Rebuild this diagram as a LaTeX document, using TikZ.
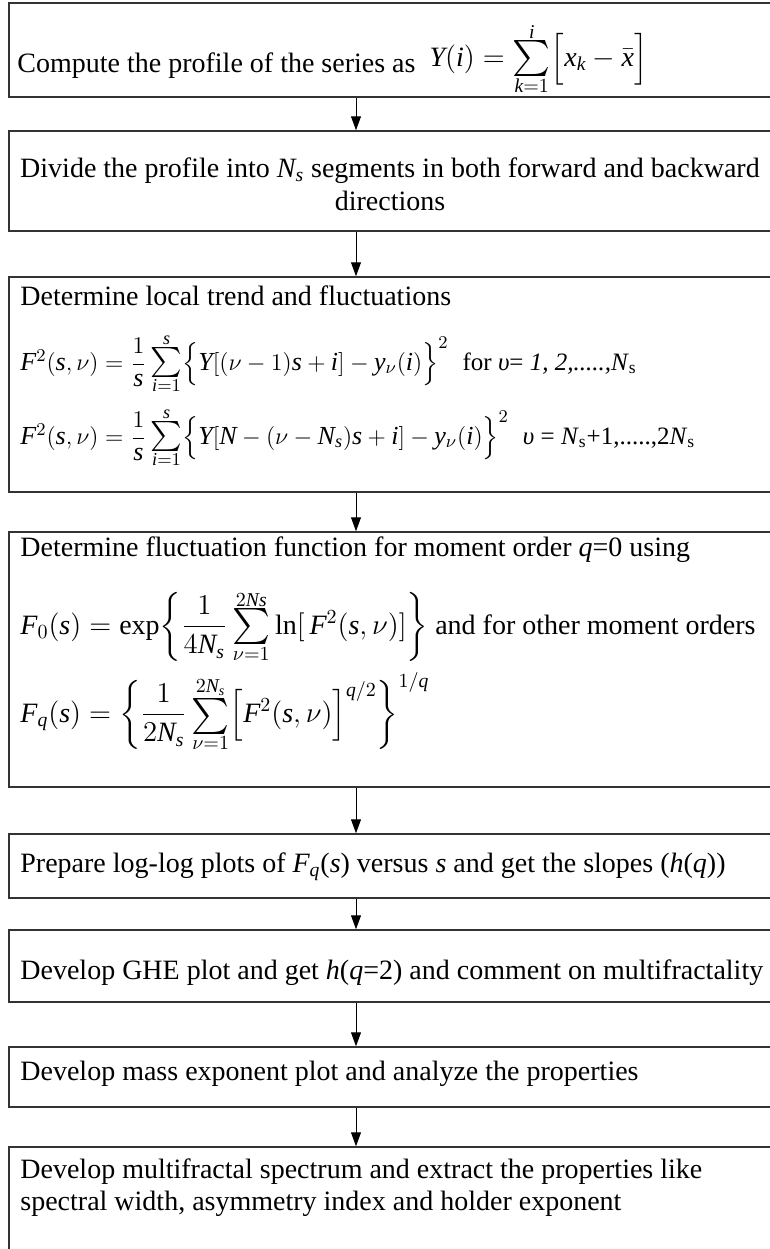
\documentclass[tikz,border=0pt]{standalone}
\usepackage{amsmath}
\usepackage{fontspec}
\setmainfont{Liberation Serif}
\newfontfamily\lsfam{Liberation Serif}[NFSSFamily=lserif]
\DeclareSymbolFont{tlet}{TU}{lserif}{m}{it}
\newcommand\defML[1]{\DeclareMathSymbol{#1}{\mathalpha}{tlet}{`#1}}
\defML a\defML b\defML c\defML d\defML e\defML f\defML g\defML h\defML i\defML j\defML k\defML l\defML m
\defML n\defML o\defML p\defML q\defML r\defML s\defML t\defML u\defML v\defML w\defML x\defML y\defML z
\defML A\defML B\defML C\defML D\defML E\defML F\defML G\defML H\defML I\defML J\defML K\defML L\defML M
\defML N\defML O\defML P\defML Q\defML R\defML S\defML T\defML U\defML V\defML W\defML X\defML Y\defML Z
% compact sum with limits: \csum{lower}{upper}
\newcommand\csum[2]{\mathop{\vcenter{\offinterlineskip\halign{\hfil##\hfil\cr
  $\scriptstyle#2$\cr\noalign{\kern1.2pt}
  \scalebox{1.25}{$\textstyle\sum$}\cr\noalign{\kern1.2pt}
  $\scriptstyle#1$\cr}}}}
\usetikzlibrary{arrows.meta}
\begin{document}
\begin{tikzpicture}[x=0.5pt,y=-0.5pt,
  box/.style={draw=black!80, line width=0.75pt, minimum width=381pt, inner sep=0pt},
  txt/.style={anchor=base west, inner sep=0pt, font=\fontsize{14}{17}\selectfont},
  ctxt/.style={anchor=base, inner sep=0pt, font=\fontsize{14}{17}\selectfont},
  arr/.style={draw=black, line width=0.5pt, -{Triangle[width=5pt,length=7pt]}}]
\useasboundingbox (0,0) rectangle (770,1249);
% boxes
\node[box, minimum height=47pt]    (b1) at (390,50) {};
\node[box, minimum height=50pt]    (b2) at (390,181) {};
\node[box, minimum height=107.5pt] (b3) at (390,384.5) {};
\node[box, minimum height=127.5pt] (b4) at (390,659.5) {};
\node[box, minimum height=32pt]    (b5) at (390,866) {};
\node[box, minimum height=36pt]    (b6) at (390,966) {};
\node[box, minimum height=30pt]    (b7) at (390,1077) {};
\node[box, minimum height=56.5pt]  (b8) at (390,1203.5) {};
% arrows
\coordinate (ax) at (356,0);
\draw[arr] (b1.south -| ax) -- (b2.north -| ax);
\draw[arr] (b2.south -| ax) -- (b3.north -| ax);
\draw[arr] (b3.south -| ax) -- (b4.north -| ax);
\draw[arr] (b4.south -| ax) -- (b5.north -| ax);
\draw[arr] (b5.south -| ax) -- (b6.north -| ax);
\draw[arr] (b6.south -| ax) -- (b7.north -| ax);
\draw[arr] (b7.south -| ax) -- (b8.north -| ax);
% texts
\node[txt] (t1) at (17,72)
  {Compute the profile of the series as \ \raisebox{3pt}{$Y(i)=\csum{k=1}{i}\Bigl[x_k-\bar{x}\Bigr]$}};
\node[ctxt] (t2a) at (390,177) {Divide the profile into \textit{N\textsubscript{s}} segments in both forward and backward};
\node[ctxt] (t2b) at (390,210) {directions};
\node[txt] (t3a) at (20,305) {Determine local trend and fluctuations};
\node[txt] (t3b) at (20,370)
  {{\fontsize{13}{16}\selectfont$F^2(s,\nu)=\dfrac{1}{s}\csum{i=1}{s}\Bigl\{Y[(\nu-1)s+i]-y_\nu(i)\Bigr\}^{2}$} \ {\fontsize{12.5}{15}\selectfont for \textit{υ}= \textit{1, 2,.....,N}\textsubscript{s}}};
\node[txt] (t3c) at (20,444)
  {{\fontsize{13}{16}\selectfont$F^2(s,\nu)=\dfrac{1}{s}\csum{i=1}{s}\Bigl\{Y[N-(\nu-N_s)s+i]-y_\nu(i)\Bigr\}^{2}$} \ {\fontsize{12.5}{15}\selectfont\textit{υ} = \textit{N}\textsubscript{s}+1,.....,2\textit{N}\textsubscript{s}}};
\node[txt] (t4a) at (20,556) {Determine fluctuation function for moment order \textit{q}=0 using};
\node[txt] (t4b) at (20,634)
  {$F_0(s)=\exp\biggl\{\dfrac{1}{4N_s}\csum{\nu=1}{2Ns}\ln[\,F^2(s,\nu)]\biggr\}$ and for other moment orders};
\node[txt] (t4c) at (20,722)
  {$F_q(s)=\left\{\dfrac{1}{2N_s}\csum{\nu=1}{2N_s}\Bigl[F^2(s,\nu)\Bigr]^{q/2}\right\}^{1/q}$};
\node[txt] (t5) at (20,872)
  {Prepare log-log plots of \textit{F\textsubscript{q}}(\textit{s}) versus \textit{s} and get the slopes (\textit{h}(\textit{q}))};
\node[txt] (t6) at (20,979)
  {Develop GHE plot and get \textit{h}(\textit{q}=2) and comment on multifractality};
\node[txt] (t7) at (20,1080) {Develop mass exponent plot and analyze the properties};
\node[txt] (t8a) at (20,1178) {Develop multifractal spectrum and extract the properties like};
\node[txt] (t8b) at (20,1210) {spectral width, asymmetry index and holder exponent};
\end{tikzpicture}
\end{document}
